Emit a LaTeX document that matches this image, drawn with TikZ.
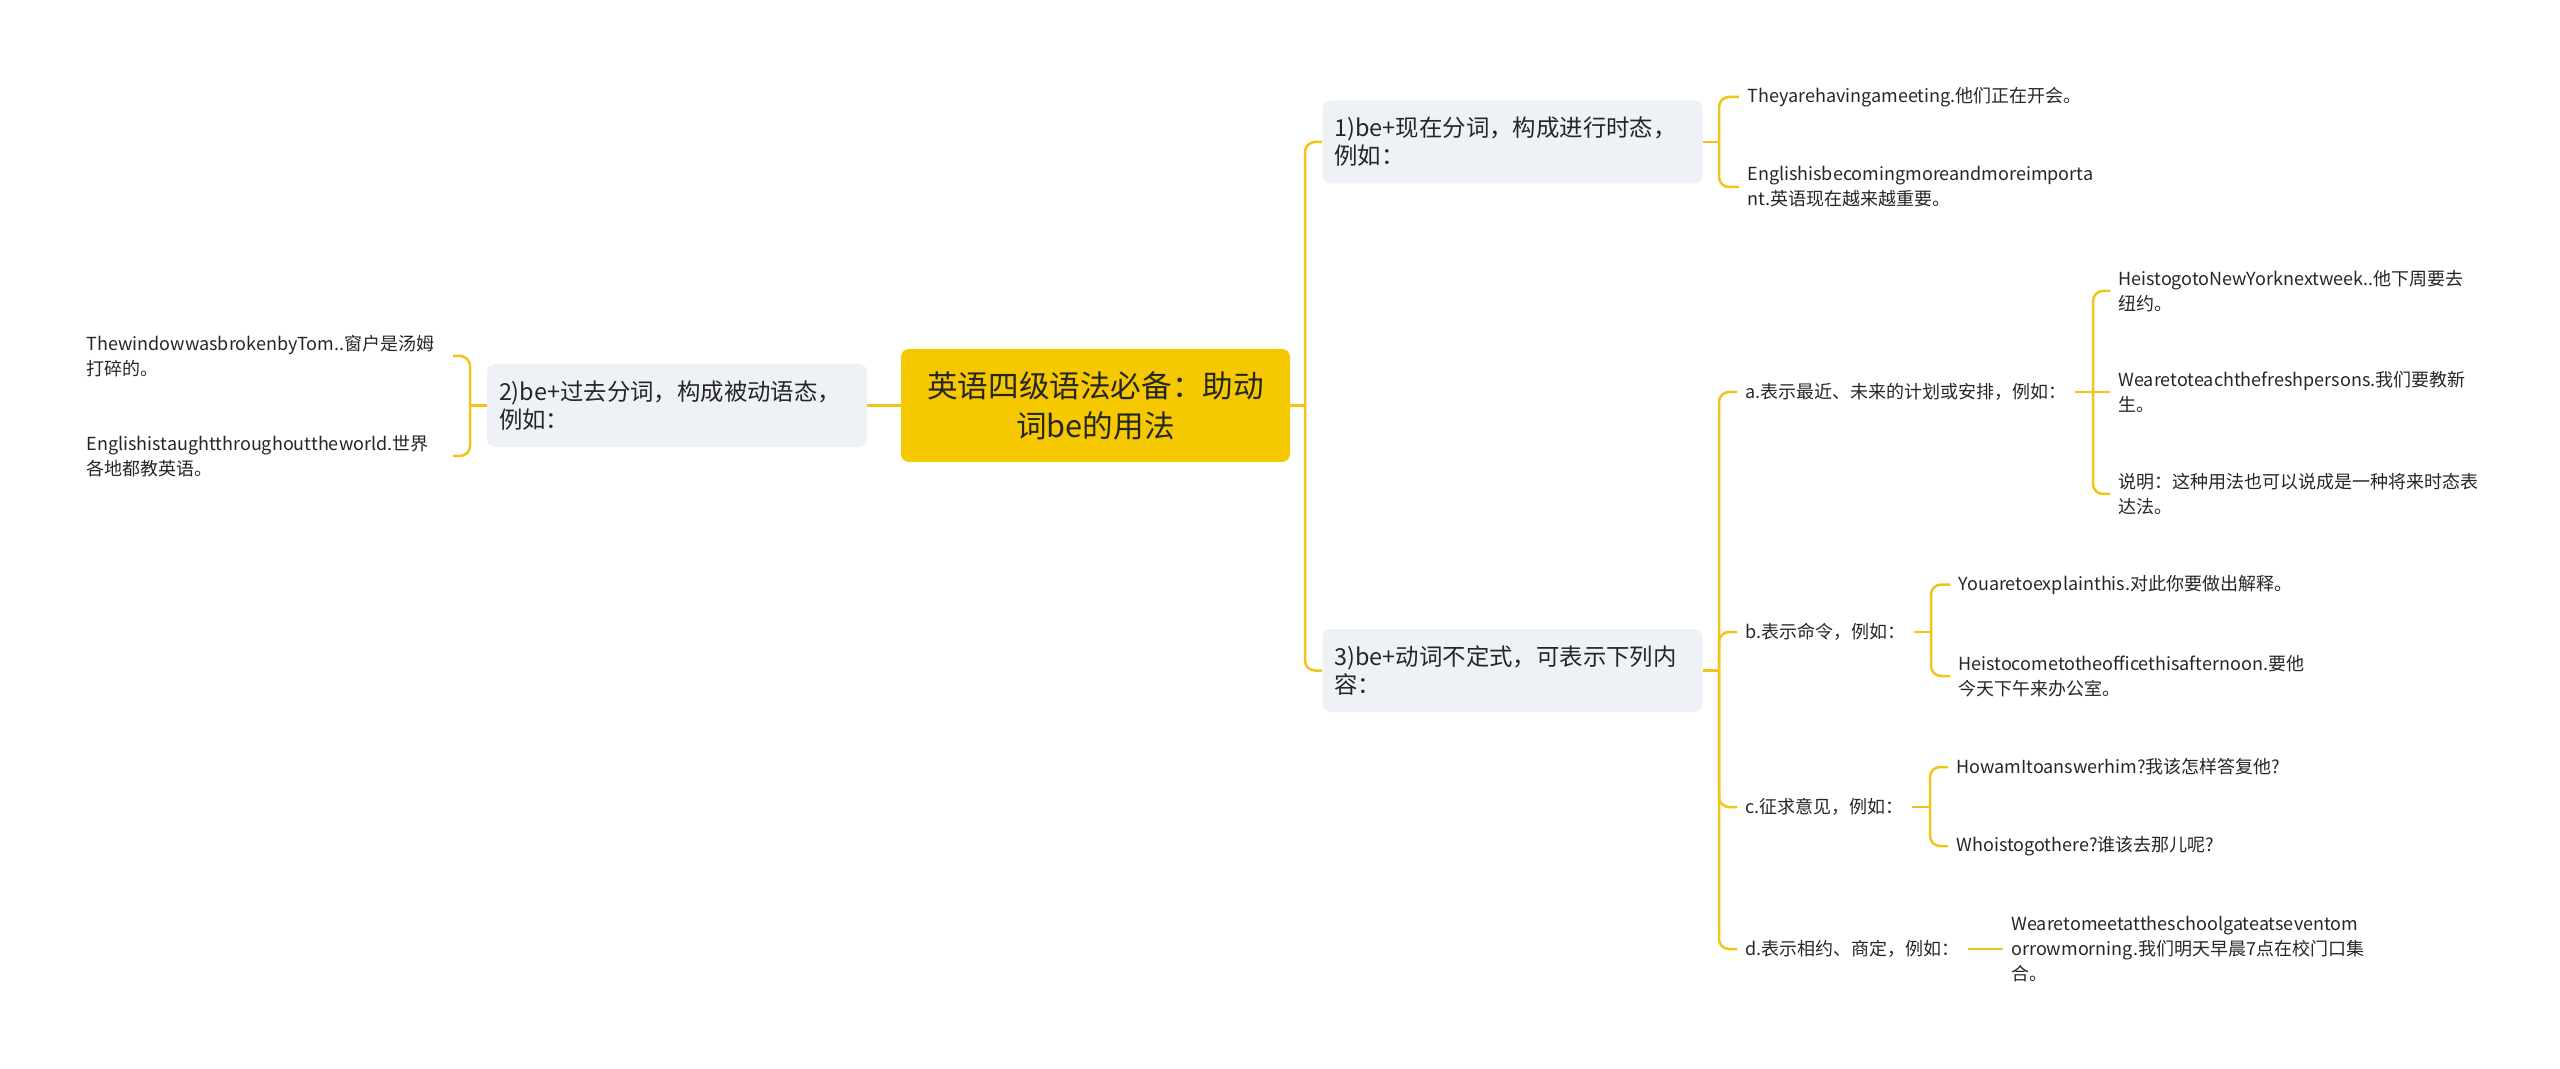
\documentclass[tikz,border=0pt]{standalone}
\usepackage{fontspec}
\setmainfont{Noto Sans CJK SC}
\usepackage{tikz}
\definecolor{Gold}{HTML}{F5C800}
\definecolor{Panel}{HTML}{EEF1F5}
\definecolor{Branch}{HTML}{F0C419}
\definecolor{Ink}{HTML}{262626}
\newcommand{\fsz}[2]{\fontsize{#1}{#2}\selectfont}

\begin{document}
\begin{tikzpicture}[x=0.5pt,y=-0.5pt,
  every node/.style={text=Ink,inner ysep=2pt},
  rootbox/.style={fill=Gold,rounded corners=4pt,minimum width=194.5pt,minimum height=56.5pt,align=center,font=\fsz{15.3}{20}},
  topic/.style={fill=Panel,rounded corners=4pt,text width=178pt,inner xsep=6pt,minimum height=41.5pt,align=left,font=\fsz{11.7}{14}},
  sub/.style={inner xsep=4pt,align=left,font=\fsz{9}{12.5}},
  link/.style={draw=Branch,line width=1.25pt,rounded corners=5pt}]
\useasboundingbox (0,0) rectangle (2560,1069);

\node[rootbox] (root) at (1095.5,405.5) {英语四级语法必备：助动\\词be的用法};
\node[topic] (t1) at (1512.5,142) {1)be+现在分词，构成进行时态，\\例如：};
\node[topic] (t2) at (677,405.5) {2)be+过去分词，构成被动语态，\\例如：};
\node[topic] (t3) at (1512.5,670.5) {3)be+动词不定式，可表示下列内\\容：};

% spines
\coordinate (s0) at (1305,405.5);
\coordinate (s1) at (1719,142);
\coordinate (s2) at (470,405.5);
\coordinate (s3) at (1719,670.5);
\coordinate (sa) at (2093,392);
\coordinate (sb) at (1931,632);
\coordinate (sc) at (1930,807);

% 1)
\node[sub,anchor=west] (e1) at (1739,97) {Theyarehavingameeting.他们正在开会。};
\node[sub,anchor=west] (e2) at (1739,187) {Englishisbecomingmoreandmoreimporta\\nt.英语现在越来越重要。};

% 2)
\node[sub,anchor=east,text width=179pt] (p1) at (453,356) {ThewindowwasbrokenbyTom..窗户是汤姆\\打碎的。};
\node[sub,anchor=east,text width=179pt] (p2) at (453,456) {Englishistaughtthroughouttheworld.世界\\各地都教英语。};

% 3)
\node[sub,anchor=west] (ca) at (1737,392) {a.表示最近、未来的计划或安排，例如：};
\node[sub,anchor=west] (cb) at (1737,632) {b.表示命令，例如：};
\node[sub,anchor=west] (cc) at (1737,807) {c.征求意见，例如：};
\node[sub,anchor=west] (cd) at (1737,949) {d.表示相约、商定，例如：};

\node[sub,anchor=west] (a1) at (2110,291) {HeistogotoNewYorknextweek..他下周要去\\纽约。};
\node[sub,anchor=west] (a2) at (2110,392) {Wearetoteachthefreshpersons.我们要教新\\生。};
\node[sub,anchor=west] (a3) at (2110,494) {说明：这种用法也可以说成是一种将来时态表\\达法。};
\node[sub,anchor=west] (b1) at (1950,584.5) {Youaretoexplainthis.对此你要做出解释。};
\node[sub,anchor=west] (b2) at (1950,676) {Heistocometotheofficethisafternoon.要他\\今天下午来办公室。};
\node[sub,anchor=west] (c1) at (1948,767) {HowamItoanswerhim?我该怎样答复他?};
\node[sub,anchor=west] (c2) at (1948,846) {Whoistogothere?谁该去那儿呢?};
\node[sub,anchor=west] (d1) at (2003,949) {Wearetomeetattheschoolgateatseventom\\orrowmorning.我们明天早晨7点在校门口集\\合。};

\draw[link] (root) -- (s0);
\draw[link] (s0) |- (t1.west);
\draw[link] (s0) |- (t3.west);
\draw[link] (root) -- (t2);
\draw[link] (t2) -- (s2);
\foreach \n in {p1,p2} \draw[link] (s2) |- (\n.east);
\draw[link] (t1) -- (s1);
\foreach \n in {e1,e2} \draw[link] (s1) |- (\n.west);
\draw[link] (t3) -- (s3);
\foreach \n in {ca,cb,cc,cd} \draw[link] (s3) |- (\n.west);
\draw[link] (ca) -- (sa);
\draw[link] (sa) -- (a2);
\foreach \n in {a1,a3} \draw[link] (sa) |- (\n.west);
\draw[link] (cb) -- (sb);
\foreach \n in {b1,b2} \draw[link] (sb) |- (\n.west);
\draw[link] (cc) -- (sc);
\foreach \n in {c1,c2} \draw[link] (sc) |- (\n.west);
\draw[link] (cd) -- (d1);
\end{tikzpicture}
\end{document}
